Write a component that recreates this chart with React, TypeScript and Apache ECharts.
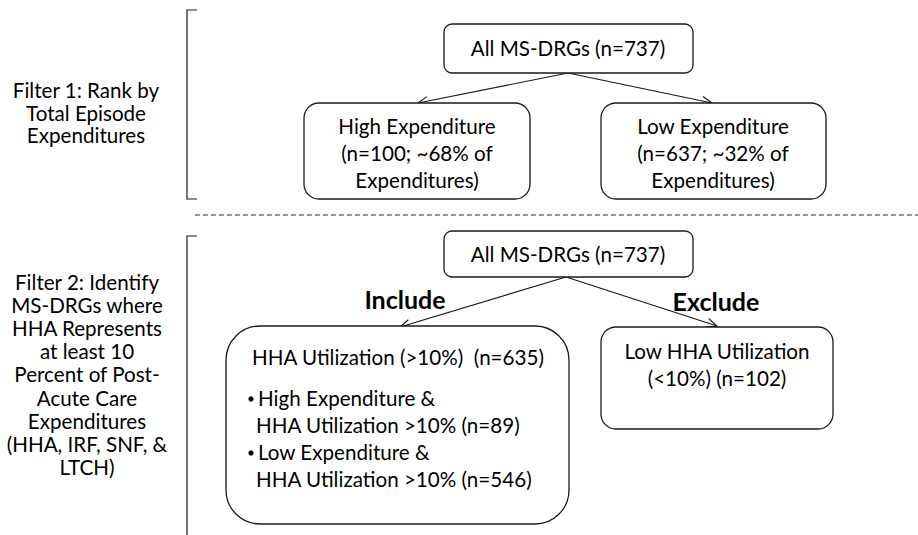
import React, { useEffect, useRef } from "react";
import * as echarts from "echarts";

// ---- Text content (data) ----
const filterLabels1: string[] = ["Filter 1: Rank by", "Total Episode", "Expenditures"];
const filterLabels2: string[] = [
  "Filter 2: Identify",
  "MS-DRGs where",
  "HHA Represents",
  "at least 10",
  "Percent of Post-",
  "Acute Care",
  "Expenditures",
  "(HHA, IRF, SNF, &",
  "LTCH)",
];
const rootLabel: string = "All MS-DRGs (n=737)";
const highExpLines: string[] = ["High Expenditure", "(n=100; ~68% of", "Expenditures)"];
const lowExpLines: string[] = ["Low Expenditure", "(n=637; ~32% of", "Expenditures)"];
const branchLabels: string[] = ["Include", "Exclude"];
const includeHeader: string = "HHA Utilization (>10%)  (n=635)";
const includeBullets: string[][] = [
  ["High Expenditure &", "HHA Utilization >10% (n=89)"],
  ["Low Expenditure &", "HHA Utilization >10% (n=546)"],
];
const excludeLines: string[] = ["Low HHA Utilization", "(<10%) (n=102)"];

// ---- Layout ----
const FONT_FAMILY = "Lato, 'Noto Sans', sans-serif";
const FS = 20.6;
const STROKE = "#1a1a1a";

function arrowHead(x1: number, y1: number, x2: number, y2: number, len = 11, ang = 0.42) {
  const a = Math.atan2(y2 - y1, x2 - x1);
  return [
    [x2 - len * Math.cos(a - ang), y2 - len * Math.sin(a - ang)],
    [x2, y2],
    [x2 - len * Math.cos(a + ang), y2 - len * Math.sin(a + ang)],
  ];
}

function arrow(x1: number, y1: number, x2: number, y2: number): any[] {
  return [
    { type: "line", shape: { x1, y1, x2, y2 }, style: { stroke: STROKE, lineWidth: 1.2 } },
    { type: "polyline", shape: { points: arrowHead(x1, y1, x2, y2) }, style: { stroke: STROKE, lineWidth: 1.2, fill: null } },
  ];
}

function txt(text: string, x: number, y: number, align: string = "center", bold = false, size = FS): any {
  return {
    type: "text",
    style: {
      text,
      x,
      y,
      fill: "#000",
      font: `${bold ? "bold " : ""}${size}px ${FONT_FAMILY}`,
      textAlign: align,
      textVerticalAlign: "middle",
    },
  };
}

function box(x: number, y: number, w: number, h: number, r: number): any {
  return {
    type: "rect",
    shape: { x, y, width: w, height: h, r },
    style: { fill: "#fff", stroke: STROKE, lineWidth: 1.3 },
  };
}

export default function App() {
  const ref = useRef<HTMLDivElement>(null);
  useEffect(() => {
    document.body.style.margin = "0";
    if (!ref.current) return;
    const chart = echarts.init(ref.current, null, { renderer: "svg" });
    const els: any[] = [];

    // Brackets
    els.push({ type: "polyline", shape: { points: [[197, 10], [187, 10], [187, 199], [197, 199]] }, style: { stroke: STROKE, lineWidth: 1.2, fill: null } });
    els.push({ type: "polyline", shape: { points: [[197, 236], [187, 236], [187, 535]] }, style: { stroke: STROKE, lineWidth: 1.2, fill: null } });

    // Dashed separator
    els.push({ type: "line", shape: { x1: 195, y1: 215, x2: 918, y2: 215 }, style: { stroke: "#333", lineWidth: 1, lineDash: [5, 3] } });

    // Filter labels
    filterLabels1.forEach((t, i) => els.push(txt(t, 86, 90 + i * 22.5)));
    filterLabels2.forEach((t, i) => els.push(txt(t, 87, 282 + i * 23.1)));

    // Top section
    els.push(...arrow(568, 73, 418, 103));
    els.push(...arrow(568, 73, 712, 103));
    els.push(box(444, 24, 249, 49, 8));
    els.push(txt(rootLabel, 568, 48));
    els.push(box(304, 103, 226, 96, 15));
    highExpLines.forEach((t, i) => els.push(txt(t, 417, 126 + i * 27)));
    els.push(box(601, 103, 225, 96, 15));
    lowExpLines.forEach((t, i) => els.push(txt(t, 713, 126 + i * 27)));

    // Bottom section
    els.push(...arrow(566, 277, 400, 327));
    els.push(...arrow(566, 277, 717, 326));
    els.push(box(444, 231, 249, 46, 8));
    els.push(txt(rootLabel, 568, 254));
    els.push(txt(branchLabels[0], 405, 299, "center", true, 25));
    els.push(txt(branchLabels[1], 716, 301, "center", true, 25));

    els.push(box(226, 326, 343, 198, 34));
    els.push(txt(includeHeader, 252, 357, "left"));
    includeBullets.forEach((lines, bi) => {
      const y0 = 398 + bi * 54;
      els.push({ type: "circle", shape: { cx: 251, cy: y0 + 1, r: 2.6 }, style: { fill: "#000" } });
      els.push(txt(lines[0], 258, y0, "left"));
      els.push(txt(lines[1], 256, y0 + 27, "left"));
    });

    els.push(box(601, 327, 232, 102, 15));
    excludeLines.forEach((t, i) => els.push(txt(t, 717, 351 + i * 27)));

    chart.setOption({
      animation: false,
      backgroundColor: "#fff",
      graphic: { elements: els },
    });
    return () => chart.dispose();
  }, []);
  return <div ref={ref} style={{ width: 918, height: 535 }} />;
}
